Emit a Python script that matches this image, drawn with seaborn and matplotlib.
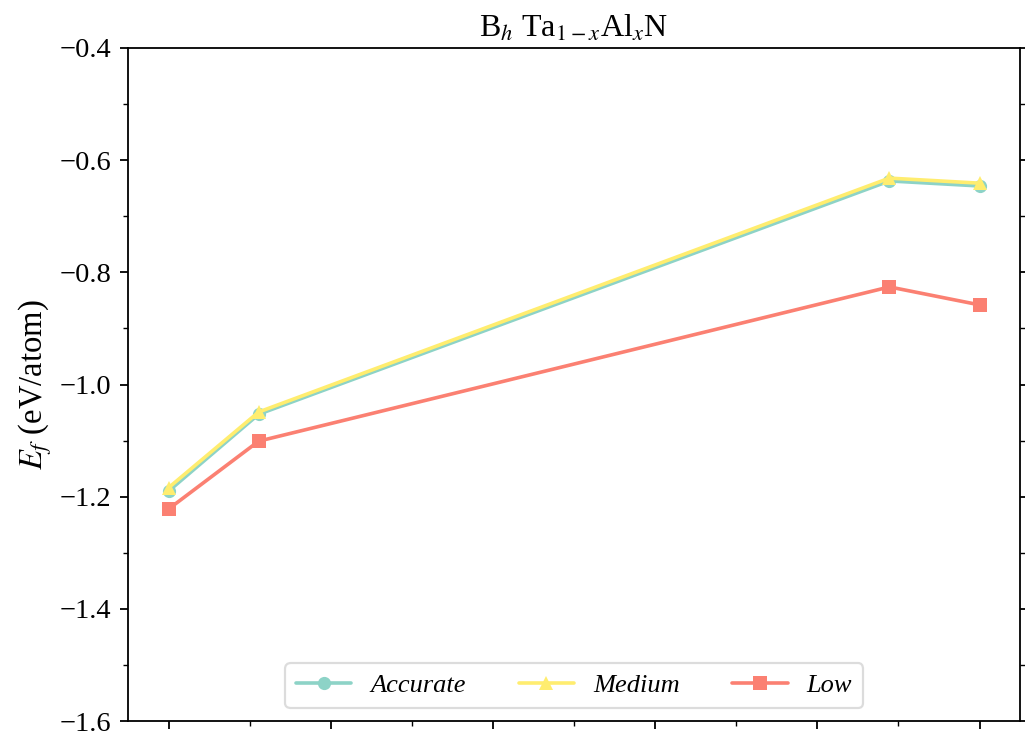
import matplotlib
matplotlib.use("Agg")
import matplotlib.pyplot as plt
from matplotlib.ticker import MultipleLocator, NullFormatter
import seaborn as sns
import pandas as pd

# Al fraction x and formation energies for three precision settings
x_al = [0.0, 1 / 9, 8 / 9, 1.0]
ef_accurate = [-1.190, -1.053, -0.637, -0.646]
ef_medium = [-1.184, -1.049, -0.632, -0.641]
ef_low = [-1.222, -1.101, -0.826, -0.858]
series_names = ["Accurate", "Medium", "Low"]
series_colors = ["#8dd3c7", "#ffed6f", "#fb8072"]
series_markers = ["o", "^", "s"]

df = pd.concat(
    [
        pd.DataFrame({"x": x_al, "Ef": vals, "setting": name})
        for name, vals in zip(series_names, [ef_accurate, ef_medium, ef_low])
    ],
    ignore_index=True,
)

sns.set_style("ticks")
plt.rcParams["font.family"] = ["Liberation Serif", "DejaVu Serif"]
plt.rcParams["mathtext.fontset"] = "stix"
plt.rcParams["text.color"] = "black"
plt.rcParams["axes.labelcolor"] = "black"
plt.rcParams["xtick.color"] = "black"
plt.rcParams["ytick.color"] = "black"

fig = plt.figure(figsize=(10.25, 7.35), dpi=100)
ax = fig.add_axes([0.1249, 0.0190, 0.8703, 0.9157])

sns.lineplot(
    data=df, x="x", y="Ef", hue="setting", style="setting",
    hue_order=series_names, style_order=series_names,
    palette=dict(zip(series_names, series_colors)),
    markers=dict(zip(series_names, series_markers)),
    dashes=False, markersize=9.5, linewidth=2.6, markeredgewidth=0,
    ax=ax,
)

ax.set_xlim(-0.05, 1.05)
ax.set_ylim(-1.6, -0.4)
ax.xaxis.set_major_locator(MultipleLocator(0.2))
ax.xaxis.set_minor_locator(MultipleLocator(0.1))
ax.xaxis.set_major_formatter(NullFormatter())
ax.yaxis.set_major_locator(MultipleLocator(0.2))
ax.yaxis.set_minor_locator(MultipleLocator(0.1))
ax.tick_params(which="major", length=6, width=1.3, labelsize=20.5, pad=6, right=True)
ax.tick_params(which="minor", length=3.5, width=1.0, right=True)
for s in ax.spines.values():
    s.set_linewidth(1.3)
    s.set_color("black")

ax.set_xlabel("")
ax.set_ylabel(r"$E_f$ (eV/atom)", fontsize=23.5, labelpad=4)
ax.set_title(r"B$_h$ Ta$_{1-x}$Al$_x$N", fontsize=23, pad=8)

handles, labels = ax.get_legend_handles_labels()
leg = ax.legend(
    handles, labels, loc="lower center",
    ncol=3, prop={"style": "italic", "size": 19},
    frameon=True, fancybox=True, edgecolor="#d4d4d4",
    handlelength=2.1, handletextpad=0.72, columnspacing=2.0,
)
leg.get_frame().set_linewidth(1.6)

fig.savefig("out.png", dpi=100)
